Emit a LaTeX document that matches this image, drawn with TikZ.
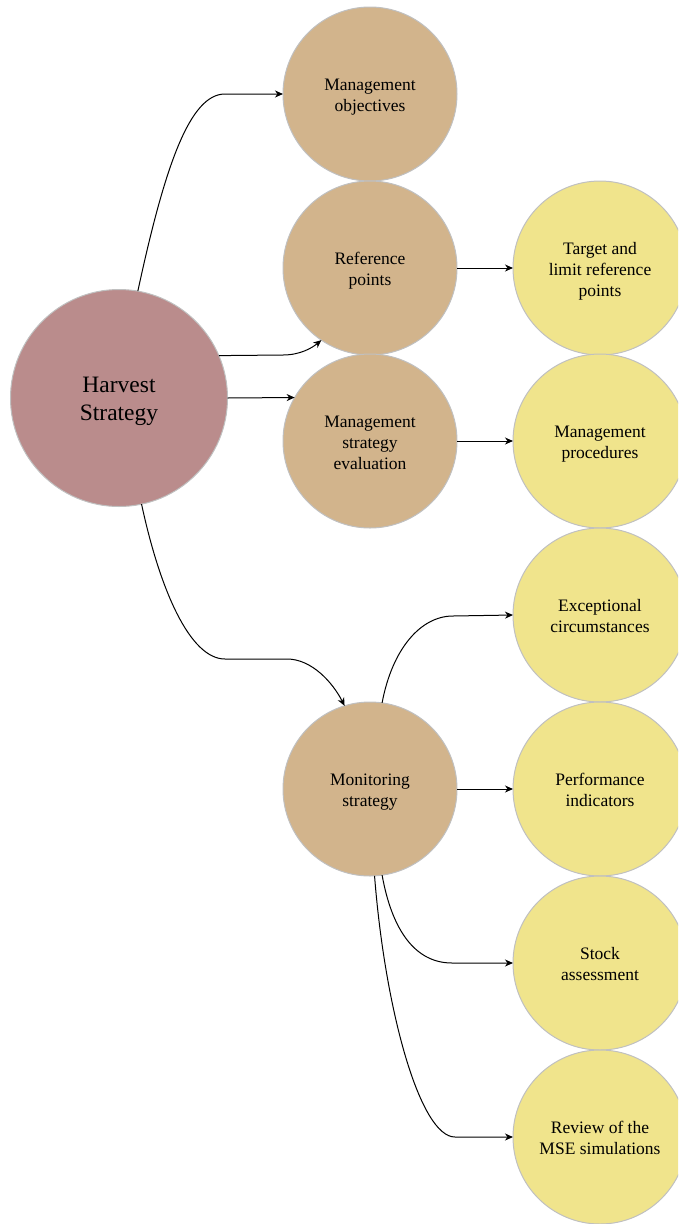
\documentclass[tikz,border=0pt]{standalone}
\usepackage{fontspec}
\setmainfont{Liberation Serif}
\usetikzlibrary{arrows.meta}
\definecolor{hsfill}{RGB}{186,140,140}
\definecolor{tanfill}{RGB}{210,180,140}
\definecolor{yelfill}{RGB}{240,228,140}
\definecolor{rim}{RGB}{192,192,192}
\newcommand{\bubbletext}[1]{\raisebox{0pt}[\dimexpr\height+6pt\relax][\depth]{\begin{tabular}{@{}c@{}}#1\end{tabular}}}
\tikzset{
  bubble/.style={circle, draw=rim, line width=1pt, inner sep=0pt, outer sep=0pt,
    minimum size=174pt, font=\fontsize{17.5}{21}\selectfont},
  mainbubble/.style={bubble, fill=hsfill, minimum size=217pt, font=\fontsize{23.5}{28}\selectfont},
  tanbubble/.style={bubble, fill=tanfill},
  yelbubble/.style={bubble, fill=yelfill},
  link/.style={line width=1pt, -{Stealth[length=8pt,width=7pt,inset=2.5pt]}}
}
\begin{document}
\begin{tikzpicture}[x=1pt,y=-1pt]
\useasboundingbox (0,0) rectangle (678,1224);
\begin{scope}
\clip (0,0) rectangle (678,1224);
\node[mainbubble] (hs) at (119,398) {\bubbletext{Harvest\\Strategy}};
\node[tanbubble] (mo) at (370,94) {\bubbletext{Management\\objectives}};
\node[tanbubble] (rp) at (370,268) {\bubbletext{Reference\\points}};
\node[tanbubble] (mse) at (370,441) {\bubbletext{Management\\strategy\\evaluation}};
\node[tanbubble] (ms) at (370,789) {\bubbletext{Monitoring\\strategy}};
\node[yelbubble] (tl) at (600,268) {\bubbletext{Target and\\limit reference\\points}};
\node[yelbubble] (mp) at (600,441) {\bubbletext{Management\\procedures}};
\node[yelbubble] (ec) at (600,615) {\bubbletext{Exceptional\\circumstances}};
\node[yelbubble] (pi) at (600,789) {\bubbletext{Performance\\indicators}};
\node[yelbubble] (sa) at (600,963) {\bubbletext{Stock\\assessment}};
\node[yelbubble] (rv) at (600,1137) {\bubbletext{Review of the\\MSE simulations}};
\end{scope}
% connectors
\draw[link] (hs.80.5) .. controls (165,165) and (190,94) .. (225,94) -- (mo.west);
\draw[link] (hs.23.7) -- (283,355) .. controls (300,355) and (312,348) .. (rp.236.3);
\draw[link] (hs.east) -- (mse.150.4);
\draw[link] (hs.282.8) .. controls (160,590) and (190,659) .. (225,659) -- (287,659)
  .. controls (312,659) and (333,683) .. (ms.107.4);
\draw[link] (rp.east) -- (tl.west);
\draw[link] (mse.east) -- (mp.west);
\draw[link] (ms.82) .. controls (392,650) and (420,616) .. (453,616) -- (ec.west);
\draw[link] (ms.east) -- (pi.west);
\draw[link] (ms.278) .. controls (392,930) and (415,963) .. (452,963) -- (sa.west);
\draw[link] (ms.273.3) .. controls (385,1010) and (420,1137) .. (455,1137) -- (rv.west);
\end{tikzpicture}
\end{document}
